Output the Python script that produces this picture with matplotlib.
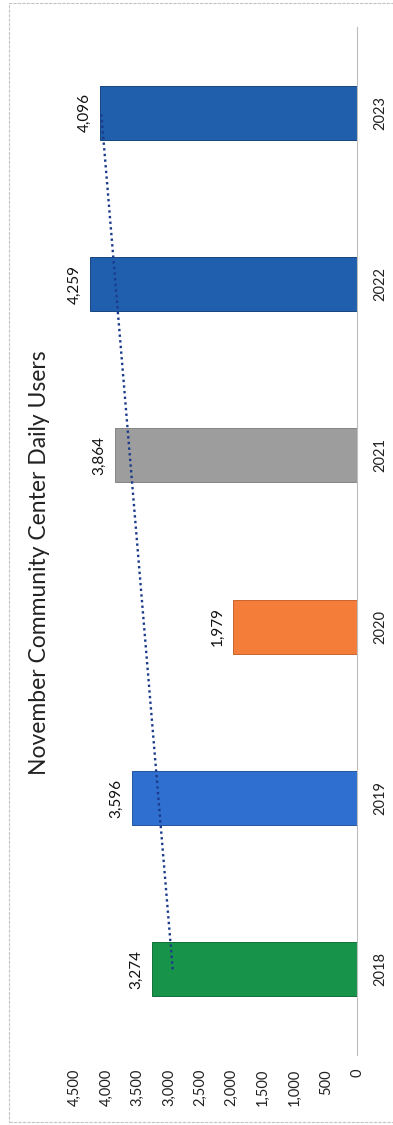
import numpy as np
import matplotlib
matplotlib.use("Agg")
import matplotlib.pyplot as plt
from matplotlib.patches import Rectangle

plt.rcParams['font.family'] = ['Lato', 'DejaVu Sans']

years = ["2018", "2019", "2020", "2021", "2022", "2023"]
users = [3274, 3596, 1979, 3864, 4259, 4096]
bar_colors = ["#17934a", "#2f6fd0", "#f47d3a", "#9d9d9d", "#1f5fae", "#1f5fac"]
edge_colors = ["#11703a", "#22569f", "#c9652e", "#858585", "#17467f", "#17467f"]
value_ticks = [0, 500, 1000, 1500, 2000, 2500, 3000, 3500, 4000, 4500]
title = "November Community Center Daily Users"

W, H = 393, 1125
fig = plt.figure(figsize=(W / 100, H / 100), dpi=100)

# page is turned sideways: categories run bottom-to-top, values grow leftwards
left, right, top, bottom = 75, 357, 27, 1055
ax = fig.add_axes([left / W, 1 - bottom / H, (right - left) / W, (bottom - top) / H])

pos = np.arange(len(years))
ax.barh(pos, users, height=0.315, color=bar_colors, edgecolor=edge_colors,
        linewidth=0.7, zorder=2)

# linear trendline across the years
slope, icpt = np.polyfit(pos, users, 1)
trend = slope * pos + icpt
ax.plot(trend, pos, linestyle=(0, (1, 1.4)), color="#1b3a8a", linewidth=1.7, zorder=3)

for p, v in zip(pos, users):
    ax.annotate(f"{v:,}", xy=(v, p), xytext=(-6, 0), textcoords="offset points",
                rotation=90, ha="right", va="center", fontsize=11, color="#111111")

ax.set_xlim(4500, 0)
ax.set_ylim(-0.5, len(years) - 0.5)
ax.set_xticks(value_ticks)
ax.set_xticklabels([f"{t:,}" for t in value_ticks], rotation=90, fontsize=10.5,
                   color="#222222")
ax.tick_params(axis="x", length=0, pad=10)

ax.yaxis.tick_right()
ax.set_yticks(pos)
ax.set_yticklabels(years, rotation=90, va="center", ha="left", fontsize=10.5,
                   color="#222222")
ax.tick_params(axis="y", length=0, pad=12)

for s in ["top", "bottom", "left"]:
    ax.spines[s].set_visible(False)
ax.spines["right"].set_color("#bdbdbd")
ax.spines["right"].set_linewidth(0.8)

fig.text(40 / W, 1 - 563 / H, title, rotation=90, ha="center", va="center",
         fontsize=16.5, color="#222222")

# outer frame of the chart area
fig.add_artist(Rectangle((9 / W, 1 - 1122 / H), (W + 5 - 9) / W, (1122 - 3) / H,
                         transform=fig.transFigure, fill=False,
                         edgecolor="#c4c4c4", linewidth=0.8,
                         linestyle=(0, (3, 1))))

fig.savefig("out.png", dpi=100)
